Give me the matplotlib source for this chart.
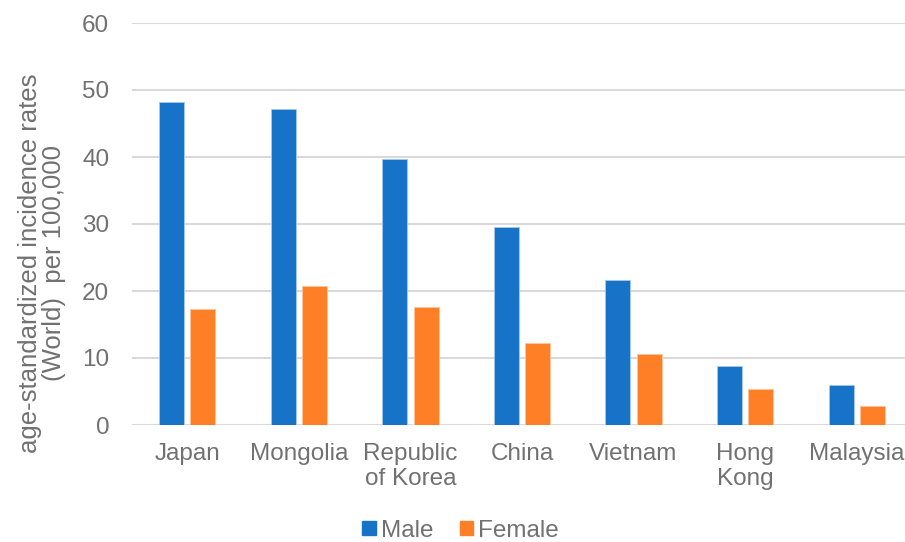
import matplotlib.pyplot as plt
import numpy as np
from matplotlib.patches import Patch

countries = ["Japan", "Mongolia", "Republic\nof Korea", "China", "Vietnam", "Hong\nKong", "Malaysia"]
male = [48.2, 47.2, 39.7, 29.6, 21.7, 8.8, 5.9]
female = [17.3, 20.7, 17.6, 12.3, 10.6, 5.3, 2.8]

BLUE = "#1773C8"
ORANGE = "#FF7F27"
TEXT = "#717171"
GRID = "#D9D9D9"
FS = 17.5

plt.rcParams["font.family"] = ["Liberation Sans", "DejaVu Sans"]

fig = plt.figure(figsize=(9.05, 5.42), dpi=100)
ax = fig.add_axes([131.5 / 905, 1 - 425 / 542, 781 / 905, (425 - 23) / 542])

x = np.arange(len(countries))
w = 0.224
off = 0.14
ax.bar(x - off, male, w, color=BLUE, edgecolor="#A9C9EA", linewidth=0.6, zorder=3)
ax.bar(x + off, female, w, color=ORANGE, edgecolor="#FFC49C", linewidth=0.6, zorder=3)

ax.set_xlim(-0.5, len(countries) - 0.5)
ax.set_ylim(0, 60)
ax.set_yticks(range(0, 61, 10))
ax.set_xticks(x)
ax.set_xticklabels(countries, fontsize=FS, color=TEXT, linespacing=1.2)
ax.tick_params(axis="y", labelsize=FS, labelcolor=TEXT, length=0, pad=16)
ax.tick_params(axis="x", length=0, pad=13)
ax.grid(True, axis="y", color=GRID, linewidth=1.5, zorder=0)
for s in ax.spines.values():
    s.set_visible(False)

fig.text(0.046, 0.515, "age-standardized incidence rates\n(World)  per 100,000",
         rotation=90, ha="center", va="center", fontsize=18.5, color=TEXT,
         multialignment="center", linespacing=1.0)

handles = [Patch(color=BLUE, label="Male"), Patch(color=ORANGE, label="Female")]
fig.legend(handles=handles, loc="center", bbox_to_anchor=(0.509, 0.021), ncol=2,
           frameon=False, fontsize=FS, labelcolor=TEXT, handlelength=0.55,
           handleheight=0.55, handletextpad=0.2, columnspacing=1.1)

fig.savefig("out.png", dpi=100)
